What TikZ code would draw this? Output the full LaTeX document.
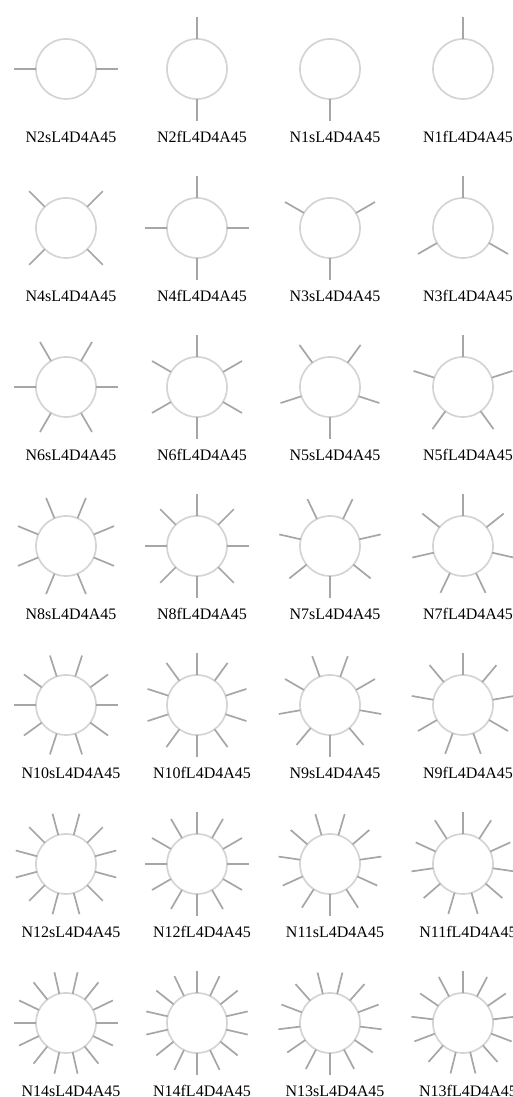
\documentclass[tikz,border=0pt]{standalone}
\usepackage{fontspec}
\setmainfont{Liberation Serif}
\begin{document}
\begin{tikzpicture}[x=1pt,y=1pt,
  ring/.style={circle,draw=black!17,line width=1.7pt,minimum size=60pt,inner sep=0pt},
  spoke/.style={draw=black!35,line width=1.7pt},
  lbl/.style={font=\fontsize{16}{18}\selectfont,inner sep=0pt,text=black}]
\useasboundingbox (0,0) rectangle (513,1097);
\foreach \r in {0,...,6}{
  \pgfmathtruncatemacro\ne{2*(\r+1)}
  \pgfmathtruncatemacro\no{2*\r+1}
  \pgfmathsetmacro\cy{1097-69-159*\r}
  \foreach \col/\cx/\nn/\typ/\off in {0/66/\ne/s/1, 1/197/\ne/f/0, 2/330/\no/s/1, 3/463/\no/f/0}{
    \node[ring] (c\r\col) at (\cx,\cy) {};
    \node[lbl] (l\r\col) at (\cx+5,\cy-68) {N\nn\typ L4D4A45};
    \foreach \k in {1,...,\nn}{
      \pgfmathsetmacro\ang{90+\off*180/\nn+(\k-1)*360/\nn}
      \draw[spoke] (c\r\col.center) ++(\ang:30) -- ++(\ang:22);
    }
  }
}
\end{tikzpicture}
\end{document}
